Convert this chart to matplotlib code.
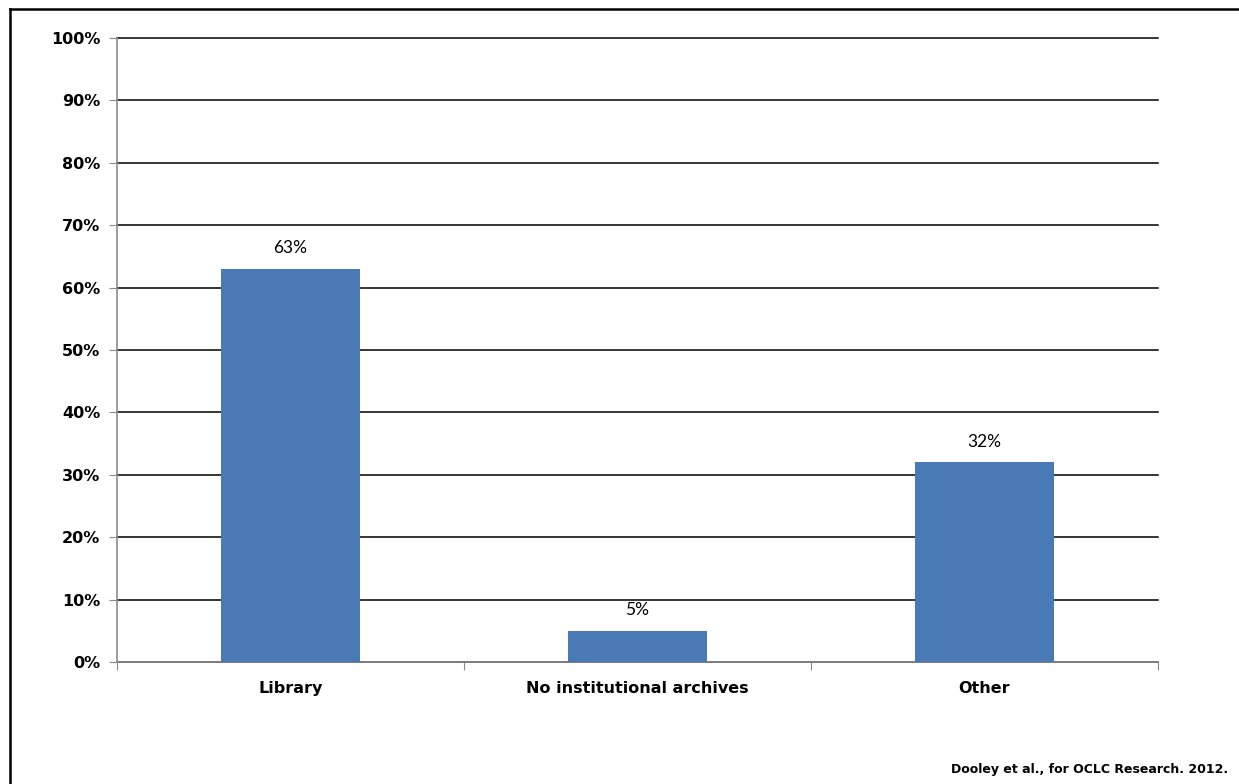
import matplotlib.pyplot as plt
from matplotlib.lines import Line2D
from matplotlib.ticker import MultipleLocator, FuncFormatter

categories = ["Library", "No institutional archives", "Other"]
shares = [63, 5, 32]
bar_labels = ["63%", "5%", "32%"]

BAR_BLUE = "#4a7ab5"
AXIS_GREY = "#8c8c8c"

plt.rcParams["font.family"] = "DejaVu Sans"

fig = plt.figure(figsize=(12.39, 7.84), dpi=100)
ax = fig.add_axes([117 / 1239, 1 - 662 / 784, (1158 - 117) / 1239, (662 - 38) / 784])

x = list(range(len(categories)))
ax.bar(x, shares, width=0.4, color=BAR_BLUE, zorder=3)

for xi, v, lab in zip(x, shares, bar_labels):
    ax.text(xi, v + 2, lab, ha="center", va="bottom", fontsize=12.5,
            family="Lato", color="black", zorder=4)

ax.set_xlim(-0.5, len(categories) - 0.5)
ax.set_ylim(0, 100)
ax.yaxis.set_major_locator(MultipleLocator(10))
ax.yaxis.set_major_formatter(FuncFormatter(lambda v, p: "%d%%" % v))
ax.yaxis.grid(True, color="black", linewidth=1.1, zorder=0)
ax.set_axisbelow(True)

# category labels sit between boundary ticks
ax.set_xticks([i - 0.5 for i in range(len(categories) + 1)])
ax.set_xticklabels([])
ax.set_xticks(x, minor=True)
ax.set_xticklabels(categories, minor=True, fontsize=11.5, fontweight="bold")
ax.tick_params(axis="x", which="minor", length=0, pad=14)
ax.tick_params(axis="x", which="major", length=6, color=AXIS_GREY, direction="out")
ax.tick_params(axis="y", length=6, color=AXIS_GREY, labelsize=11.5, pad=6)
for lab in ax.get_yticklabels():
    lab.set_fontweight("bold")

for side in ["top", "right"]:
    ax.spines[side].set_visible(False)
for side in ["left", "bottom"]:
    ax.spines[side].set_color(AXIS_GREY)
    ax.spines[side].set_linewidth(1.2)

fig.text(1228 / 1239, 1 - 770 / 784, "Dooley et al., for OCLC Research. 2012.",
         ha="right", va="center", fontsize=9, fontweight="bold")

# frame runs along the top and left edges only
fx, fy = 10 / 1239, 1 - 9 / 784
fig.lines.append(Line2D([fx, 1], [fy, fy], transform=fig.transFigure,
                        color="black", linewidth=1.8))
fig.lines.append(Line2D([fx, fx], [0, fy], transform=fig.transFigure,
                        color="black", linewidth=1.8))

fig.canvas.draw()
for gl in ax.get_ygridlines():
    gl.set_clip_on(False)

fig.savefig("out.png", dpi=100)
